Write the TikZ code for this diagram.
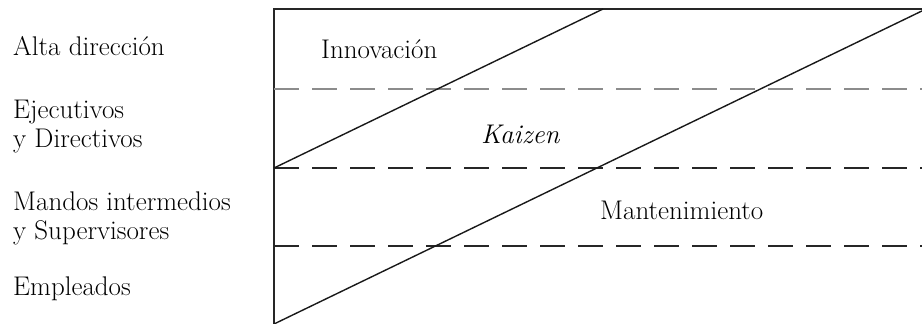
\documentclass[tikz,border=0pt]{standalone}
\usepackage{fontspec}
\begin{document}
\begin{tikzpicture}[x=1pt,y=-1pt,
  lbl/.style={anchor=base west,inner sep=0pt,font=\fontsize{27}{28.5}\selectfont,align=left},
  frameline/.style={line width=1.4pt,black!85},
  diag/.style={line width=1.4pt,black!90},
  dashline/.style={line width=1.6pt,dash pattern=on 25pt off 13pt}]
\useasboundingbox (0,0) rectangle (922,324);
% frame
\draw[frameline] (922,9) -- (274,9) -- (274,324);
% dashed levels
\draw[dashline,black!45] (274,89) -- (922,89);
\draw[dashline,black!85] (274,168) -- (922,168);
\draw[dashline,black!85] (274,246) -- (922,246);
% diagonals
\draw[diag] (274,168) -- (603,9);
\draw[diag] (274,324) -- (926,9);
% left labels (base = last line)
\node[lbl] (alta) at (13,55) {Alta dirección};
\node[lbl] (ejec) at (13,147) {Ejecutivos\\y Directivos};
\node[lbl] (mand) at (13,239) {Mandos intermedios\\y Supervisores};
\node[lbl] (empl) at (13,295) {Empleados};
% region labels
\node[lbl] (inno) at (321,58) {Innovación};
\node[lbl] (kai) at (481,143) {\itshape Kaizen};
\node[lbl] (mant) at (600,219) {Mantenimiento};
\end{tikzpicture}
\end{document}
